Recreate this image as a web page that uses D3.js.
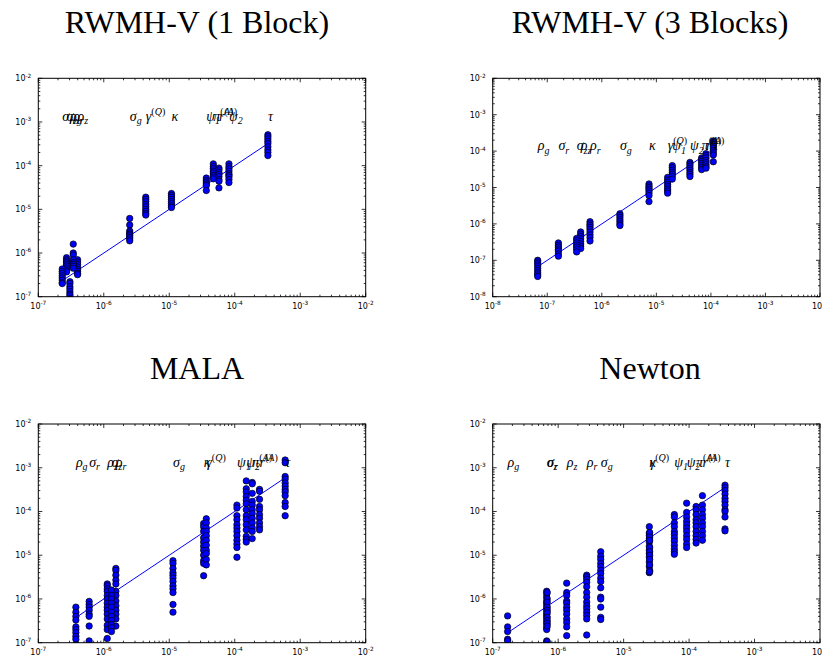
<!DOCTYPE html>
<html><head><meta charset="utf-8">
<script src="https://cdn.jsdelivr.net/npm/d3@7"></script>
<style>body{margin:0;background:#fff}</style>
</head><body>
<svg id="c" width="822" height="661" xmlns="http://www.w3.org/2000/svg"></svg>
<script>
// ---------- DATA ----------
const titles = ["RWMH-V (1 Block)", "RWMH-V (3 Blocks)", "MALA", "Newton"];
const params = ["ρ_g","ρ_z","ρ_r","σ_g","σ_z","σ_r","κ","γ^(Q)","ψ_1","ψ_2","π^(A)","r^(A)","τ"];
const xDomains = [[1e-7,1e-2],[1e-8,1e-2],[1e-7,1e-2],[1e-7,1e-2]];
const yDomains = [[1e-7,1e-2],[1e-8,1e-2],[1e-7,1e-2],[1e-7,1e-2]];
const labelY = [1e-3, 1e-4, 1e-3, 1e-3];

// RWMH-V (1 Block)
const xRWMH1 = [3.04e-7, 3.98e-7, 3.42e-7, 2.49e-6, 2.7e-7, 2.32e-7, 1.08e-5, 4.38e-6, 3.68e-5, 8.16e-5, 4.71e-5, 5.74e-5, 3.21e-4];
const yRWMH1 = [
  [2.2e-7,2.0e-7,1.7e-7,1.5e-7,1.3e-7,1.15e-7,1.05e-7,9e-8],
  [7e-7,6.2e-7,5.5e-7,4.8e-7,4.2e-7,3.8e-7,3.4e-7,3.2e-7],
  [1.6e-6,1.0e-6,9e-7,7e-7,6e-7,5.5e-7,5e-7,4.5e-7],
  [6.2e-6,4.4e-6,3.2e-6,2.9e-6,2.7e-6,2.5e-6,2.3e-6,2.1e-6,1.9e-6],
  [7.8e-7,7e-7,6.5e-7,6e-7,5.5e-7,5e-7,4.5e-7,4e-7,3.7e-7],
  [4.3e-7,3.8e-7,3.4e-7,3.0e-7,2.7e-7,2.4e-7,2.1e-7,2.0e-7],
  [2.3e-5,2.1e-5,1.9e-5,1.7e-5,1.5e-5,1.35e-5,1.2e-5,1.1e-5],
  [1.9e-5,1.7e-5,1.5e-5,1.3e-5,1.15e-5,1.0e-5,9e-6,8e-6,7.4e-6],
  [5.2e-5,4.6e-5,4.2e-5,3.8e-5,3.5e-5,2.7e-5],
  [1.1e-4,9.5e-5,8.5e-5,7.5e-5,6.5e-5,6e-5,5.5e-5,4.8e-5,4.1e-5],
  [1.1e-4,9.5e-5,8.5e-5,7.5e-5,6.8e-5,6e-5,5.5e-5,5e-5],
  [8.8e-5,8e-5,7e-5,6.3e-5,5.6e-5,4.8e-5,4.4e-5,3.1e-5],
  [5.1e-4,4.6e-4,4.1e-4,3.6e-4,3.2e-4,2.7e-4,2.3e-4,2.0e-4,1.7e-4]
];

// RWMH-V (3 Blocks)
const xRWMH3 = [6.68e-8, 4.1e-7, 6.08e-7, 2.15e-6, 3.46e-7, 1.6e-7, 7.33e-6, 1.61e-5, 1.96e-5, 4.13e-5, 6.76e-5, 8.13e-5, 1.107e-4];
const yRWMH3 = [
  [1.0e-7,9e-8,8e-8,7e-8,6e-8,5.2e-8,4.5e-8,4e-8,3.6e-8],
  [6e-7,5.2e-7,4.5e-7,3.9e-7,3.3e-7,2.8e-7,2.4e-7,2.1e-7],
  [1.15e-6,1.0e-6,9e-7,8e-7,7e-7,6e-7,5e-7,4.2e-7,3.4e-7],
  [1.9e-6,1.7e-6,1.5e-6,1.3e-6,1.15e-6,1.0e-6,9e-7],
  [4e-7,3.5e-7,3e-7,2.6e-7,2.3e-7,2e-7,1.7e-7],
  [3e-7,2.6e-7,2.3e-7,2e-7,1.8e-7,1.5e-7,1.3e-7],
  [1.25e-5,1.1e-5,1.0e-5,9e-6,8e-6,7e-6,6e-6,4.1e-6],
  [1.9e-5,1.6e-5,1.4e-5,1.2e-5,1.05e-5,9e-6,8e-6,7e-6],
  [4e-5,3.5e-5,3e-5,2.6e-5,2.3e-5,2e-5,1.7e-5],
  [4.9e-5,4.4e-5,3.9e-5,3.4e-5,3e-5,2.6e-5,2.3e-5,2e-5],
  [6.5e-5,5.8e-5,5.2e-5,4.6e-5,4e-5,3.5e-5,3.1e-5],
  [8.5e-5,7.5e-5,6.5e-5,5.5e-5,4.8e-5,4.2e-5,3.7e-5,3.4e-5],
  [1.9e-4,1.7e-4,1.5e-4,1.35e-4,1.2e-4,1.05e-4,9e-5,7.8e-5,5.1e-5]
];

// MALA
const xMALA = [3.75e-7, 1.13e-6, 1.53e-6, 1.14e-5, 1.31e-6, 5.98e-7, 3.35e-5, 3.68e-5, 1.08e-4, 1.5e-4, 1.85e-4, 2.39e-4, 5.89e-4];
const yMALA = [
  [6.5e-7,5e-7,4e-7,3.3e-7,2.3e-7,2e-7,1.7e-7,1.4e-7,1.2e-7,9e-8],
  [2.2e-6,2e-6,1.7e-6,1.5e-6,1.2e-6,1e-6,8e-7,6.5e-7,5.5e-7,4.5e-7,3.5e-7,2.5e-7,2e-7,1.25e-7],
  [5e-6,4.5e-6,3.5e-6,2.7e-6,2.2e-6,1.5e-6,1.2e-6,9e-7,7e-7,5.5e-7,4.5e-7,3.5e-7,2.4e-7],
  [7.5e-6,6.5e-6,5e-6,4e-6,3.5e-6,3e-6,2.5e-6,2e-6,1.7e-6,1.4e-6,7.5e-7,5e-7],
  [1.6e-6,1.2e-6,1e-6,8e-7,6.5e-7,5e-7,4e-7,3.2e-7,2.6e-7,2.2e-7,1.8e-7],
  [8.8e-7,7.5e-7,6.5e-7,5.5e-7,4.5e-7,4e-7,2.4e-7,1.1e-7],
  [5.3e-5,4.5e-5,3.5e-5,2.5e-5,2e-5,1.6e-5,1.3e-5,1e-5,7.5e-6,6.5e-6,3.4e-6],
  [6.8e-5,5.5e-5,4.2e-5,3.5e-5,2.8e-5,2.2e-5,1.7e-5,1.3e-5,1.1e-5,8e-6,6e-6],
  [1.4e-4,1.2e-4,8e-5,6.5e-5,5e-5,4.2e-5,3.5e-5,2.8e-5,2.2e-5,1.8e-5,1.5e-5,9e-6],
  [5e-4,3.3e-4,2.8e-4,2.2e-4,1.8e-4,1.5e-4,1.1e-4,8e-5,6.5e-5,5e-5,3.8e-5,2.7e-5,2.3e-5,2e-5],
  [4.6e-4,4.3e-4,2.6e-4,1.7e-4,1.4e-4,1.1e-4,9e-5,7e-5,5.5e-5,4.2e-5,3.5e-5,2.4e-5],
  [3.2e-4,2.9e-4,1.9e-4,1.3e-4,1.1e-4,8.5e-5,7e-5,5.5e-5,4.5e-5,3.8e-5],
  [1.5e-3,1.3e-3,6.3e-4,5.5e-4,4.5e-4,3.8e-4,3.2e-4,2.8e-4,2.3e-4,1.6e-4,1.3e-4,8e-5]
];

// Newton
const xNewton = [1.69e-7, 1.35e-6, 2.73e-6, 4.47e-6, 6.68e-7, 6.8e-7, 2.47e-5, 2.5e-5, 5.96e-5, 9.18e-5, 1.28e-4, 1.6e-4, 3.54e-4];
const yNewton = [
  [4.1e-7,2.3e-7,1.8e-7,1.2e-7,1.1e-7,8e-8],
  [2.3e-6,1.4e-6,1.2e-6,9e-7,8e-7,6.5e-7,5.5e-7,4.5e-7,3.5e-7,2.9e-7,2.3e-7,1.45e-7],
  [3.5e-6,3.2e-6,2.8e-6,2.4e-6,1.9e-6,1.4e-6,1.1e-6,8.5e-7,7e-7,6e-7,5e-7,4.2e-7,3.5e-7,1.5e-7],
  [1.2e-5,9.5e-6,8e-6,6.5e-6,5.5e-6,4.5e-6,3.8e-6,3e-6,2.5e-6,1.8e-6,1.1e-6,1e-6,6.5e-7,3.8e-7,3.4e-7],
  [1.5e-6,1.3e-6,1.1e-6,9e-7,8e-7,7e-7,6e-7,5.2e-7,4.5e-7,4e-7,3.5e-7,3e-7,2.6e-7,2.2e-7,2e-7,1.1e-7],
  [1.4e-6,1.0e-6,8.5e-7,6.5e-7,5.5e-7,4.8e-7,3.8e-7,3.2e-7,2.8e-7,2.4e-7,1.05e-7],
  [4.5e-5,3.2e-5,2.8e-5,2.4e-5,2e-5,1.6e-5,1.3e-5,1.1e-5,9e-6,7e-6,5.5e-6,4e-6],
  [3.3e-5,2.6e-5,2.2e-5,1.5e-5,1.2e-5,1e-5,8e-6,6e-6,4.5e-6,4.2e-6],
  [8.5e-5,7.5e-5,5.5e-5,4.5e-5,3.5e-5,3e-5,2.5e-5,2.1e-5,1.7e-5,1.4e-5,1.2e-5,1.05e-5],
  [1.55e-4,9.5e-5,7.5e-5,6e-5,5e-5,4.2e-5,3.5e-5,2.8e-5,2.3e-5,1.8e-5,1.5e-5],
  [1.3e-4,1.1e-4,8.5e-5,6.5e-5,5.5e-5,4.5e-5,3.5e-5,2.8e-5,2.3e-5,1.9e-5],
  [2.3e-4,1.4e-4,1.1e-4,8.5e-5,7e-5,5.5e-5,4.5e-5,3.5e-5,2.8e-5,2.2e-5],
  [4e-4,3.5e-4,3e-4,2.5e-4,2e-4,1.7e-4,1.4e-4,1.1e-4,1e-4,7.5e-5,4e-5,3.6e-5]
];

const xSeries = [xRWMH1, xRWMH3, xMALA, xNewton];
const ySeries = [yRWMH1, yRWMH3, yMALA, yNewton];

// ---------- LAYOUT ----------
const panels = [
  {x0: 38.3, x1: 365.7, y0: 78.3, y1: 296.7, tx: 197, ty: 33},
  {x0: 492.7, x1: 820, y0: 78.3, y1: 296.7, tx: 650, ty: 33},
  {x0: 38.3, x1: 365.7, y0: 424, y1: 642.7, tx: 197, ty: 379},
  {x0: 492.7, x1: 820, y0: 424, y1: 642.7, tx: 650, ty: 379}
];

const svg = d3.select("#c");
const tickFont = "'DejaVu Sans', sans-serif";
const mathFont = "'Liberation Serif', 'DejaVu Serif', serif";

function parseLabel(s) {
  const base = s[0];
  let sub = null, sup = null;
  if (s.indexOf("_") === 1) sub = s.slice(2);
  if (s.indexOf("^") === 1) sup = s.slice(2);
  return {base, sub, sup};
}

function powLabel(sel, v) {
  const e = Math.round(Math.log10(v));
  sel.append("tspan").text("10");
  sel.append("tspan").attr("font-size", 5.8).attr("dy", -3.6).text("-" + Math.abs(e));
}

panels.forEach((p, i) => {
  const g = svg.append("g");
  const xs = d3.scaleLog().domain(xDomains[i]).range([p.x0, p.x1]);
  const ys = d3.scaleLog().domain(yDomains[i]).range([p.y1, p.y0]);

  // title
  g.append("text").attr("x", p.tx).attr("y", p.ty)
    .attr("text-anchor", "middle")
    .attr("font-family", "'Liberation Serif', serif")
    .attr("font-size", 32).attr("fill", "#000")
    .text(titles[i]);

  const clipId = "clip" + i;
  svg.append("clipPath").attr("id", clipId).append("rect")
    .attr("x", p.x0).attr("y", p.y0).attr("width", p.x1 - p.x0).attr("height", p.y1 - p.y0);

  const plot = g.append("g").attr("clip-path", `url(#${clipId})`);

  // reference line y = x over the data range
  const ext = d3.extent(xSeries[i]);
  plot.append("line")
    .attr("x1", xs(ext[0])).attr("y1", ys(ext[0]))
    .attr("x2", xs(ext[1])).attr("y2", ys(ext[1]))
    .attr("stroke", "#0000ff").attr("stroke-width", 1);

  // points
  const pts = [];
  xSeries[i].forEach((xv, k) => ySeries[i][k].forEach(yv => pts.push([xv, yv])));
  plot.selectAll("circle").data(pts).join("circle")
    .attr("cx", d => xs(d[0])).attr("cy", d => ys(d[1]))
    .attr("r", 3.2).attr("fill", "#0000ff")
    .attr("stroke", "#000").attr("stroke-width", 0.7);

  // parameter labels
  xSeries[i].forEach((xv, k) => {
    const L = parseLabel(params[k]);
    const t = g.append("text").attr("x", xs(xv)).attr("y", ys(labelY[i]) - 1)
      .attr("font-family", mathFont).attr("font-size", 14).attr("fill", "#000");
    t.append("tspan").attr("font-style", "italic").text(L.base);
    if (L.sub) t.append("tspan").attr("font-style", "italic").attr("font-size", 10).attr("dy", 3.5).text(L.sub);
    if (L.sup) {
      const s = t.append("tspan").attr("font-size", 10).attr("dy", -6);
      s.append("tspan").text("(");
      s.append("tspan").attr("font-style", "italic").text(L.sup.slice(1, -1));
      s.append("tspan").text(")");
    }
  });

  // frame
  g.append("rect").attr("x", p.x0).attr("y", p.y0)
    .attr("width", p.x1 - p.x0).attr("height", p.y1 - p.y0)
    .attr("fill", "none").attr("stroke", "#000").attr("stroke-width", 1);

  // ticks (inside, all four sides)
  const xmaj = [], xmin = [], ymaj = [], ymin = [];
  for (let e = Math.round(Math.log10(xDomains[i][0])); e <= Math.round(Math.log10(xDomains[i][1])); e++) {
    xmaj.push(Math.pow(10, e));
    if (Math.pow(10, e) < xDomains[i][1]) for (let m = 2; m <= 9; m++) xmin.push(m * Math.pow(10, e));
  }
  for (let e = Math.round(Math.log10(yDomains[i][0])); e <= Math.round(Math.log10(yDomains[i][1])); e++) {
    ymaj.push(Math.pow(10, e));
    if (Math.pow(10, e) < yDomains[i][1]) for (let m = 2; m <= 9; m++) ymin.push(m * Math.pow(10, e));
  }
  const tk = g.append("g").attr("stroke", "#000").attr("stroke-width", 0.8);
  const drawX = (vals, len) => vals.forEach(v => {
    const x = xs(v);
    tk.append("line").attr("x1", x).attr("x2", x).attr("y1", p.y1).attr("y2", p.y1 - len);
    tk.append("line").attr("x1", x).attr("x2", x).attr("y1", p.y0).attr("y2", p.y0 + len);
  });
  const drawY = (vals, len) => vals.forEach(v => {
    const y = ys(v);
    tk.append("line").attr("y1", y).attr("y2", y).attr("x1", p.x0).attr("x2", p.x0 + len);
    tk.append("line").attr("y1", y).attr("y2", y).attr("x1", p.x1).attr("x2", p.x1 - len);
  });
  drawX(xmaj, 4); drawX(xmin, 2); drawY(ymaj, 4); drawY(ymin, 2);

  // tick labels
  xmaj.forEach(v => {
    const t = g.append("text").attr("x", xs(v)).attr("y", p.y1 + 12)
      .attr("text-anchor", "middle").attr("font-family", tickFont)
      .attr("font-size", 8).attr("fill", "#000");
    powLabel(t, v);
  });
  ymaj.forEach(v => {
    const t = g.append("text").attr("x", p.x0 - 7).attr("y", ys(v) + 3)
      .attr("text-anchor", "end").attr("font-family", tickFont)
      .attr("font-size", 8).attr("fill", "#000");
    powLabel(t, v);
  });
});
</script>
</body></html>
